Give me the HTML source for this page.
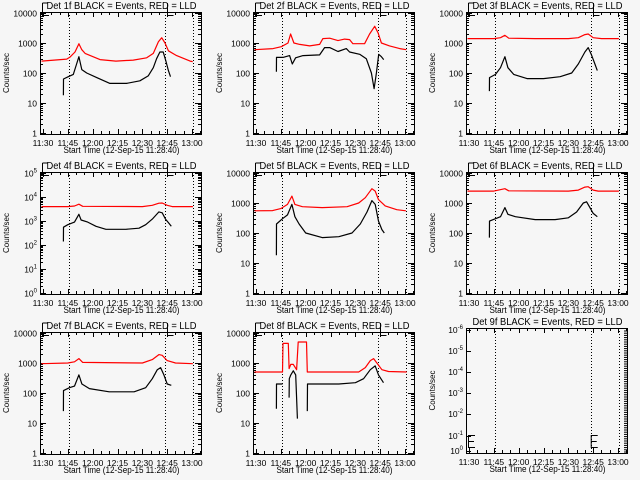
<!DOCTYPE html>
<html><head><meta charset="utf-8"><style>
html,body{margin:0;padding:0;background:#f6f6f6}
svg{display:block}
text{font-family:"Liberation Sans",sans-serif;fill:#000}
</style></head><body>
<svg id="chart" width="640" height="480" xmlns="http://www.w3.org/2000/svg">
<rect width="640" height="480" fill="#f6f6f6"/>
</svg>
<script>
// Data: minutes since 11:30 and count rates (counts/sec)
const xTickLabels = ["11:30","11:45","12:00","12:15","12:30","12:45","13:00"];
const markerTimes = [15.9, 73.5, 90.4];
const detNames = ["1f","2f","3f","4f","5f","6f","7f","8f","9f"];

const p1RedT = [-0.9,14.3,16.3,19.3,21.7,23.4,25.4,34.4,44,54.5,62.6,66.6,69.7,71.7,73.7,75.7,80.7,88.8,90.4];
const p1RedV = [250,290,340,500,950,600,450,280,250,270,320,450,1100,1500,1000,550,380,250,240];
const p1BlkT = [12.3,12.4,15.3,18.3,20.3,21.7,23.4,26.4,32.4,40.4,50.4,58.5,63.5,66.6,68.6,70.6,72.6,74.2,75.7,77];
const p1BlkV = [18,63,75,90,200,350,130,100,70,45,45,55,80,150,300,500,500,250,120,75];

const p2RedT = [-0.9,10.3,15.3,19.3,20.9,22.9,26.4,32.4,38.4,40.4,44.5,49.5,53.5,56.5,58.5,65.6,68.6,71.7,73.7,75.7,80.7,86.8,90.8];
const p2RedV = [600,650,750,1000,2000,1000,900,800,900,1400,1450,1200,1350,1300,950,950,2000,3600,2200,1000,800,650,600];
const p2BlkT = [12.3,12.4,16.3,20.3,21.9,23.9,28.4,38.4,41.4,44.5,49.5,54.5,56.5,62.6,66.6,69.7,71.3,72.7,74.1,75.7,77.1];
const p2BlkV = [110,330,330,380,200,320,380,400,700,700,520,650,500,420,300,100,30,100,420,350,280];

const p3RedT = [-0.9,15,19,21.7,24,40,60,66,70,72,75,80,90.5];
const p3RedV = [1400,1400,1500,1800,1450,1400,1400,1500,1900,2000,1500,1400,1400];
const p3BlkT = [12.3,12.4,16,19,21.7,23.5,27,35,45,55,62,66,70,72,74,76,77.5];
const p3BlkV = [25,70,90,150,350,150,90,65,65,75,100,200,500,700,400,200,120];

const p4RedT = [-0.9,15,19,21.7,24,60,66,70,72,75,78,90.5];
const p4RedV = [4000,4000,4200,5000,4100,4000,4500,5500,5600,4500,4000,4000];
const p4BlkT = [12.3,12.4,15,19,21.7,23,27,32,38,50,58,62,66,70,72,74,76,77.5];
const p4BlkV = [140,550,700,900,1900,1100,900,600,450,450,500,700,1200,2400,2200,1200,800,600];

const p5RedT = [-0.9,10,15,19,21.7,23.5,28,40,55,62,66,70,72,74,78,85,90.5];
const p5RedV = [550,560,650,900,1700,900,750,700,750,1000,1500,3000,2500,1300,800,600,550];
const p5BlkT = [12.3,12.4,16,19,21.7,23.5,26,30,40,50,58,63,67,70,72,74,76,77.5];
const p5BlkV = [18,200,300,400,900,350,200,100,70,75,100,200,500,1200,900,250,130,100];

const p6RedT = [-0.9,15,21.7,24,60,66,70,72,75,78,90.5];
const p6RedV = [2500,2500,3000,2550,2500,2700,3400,3500,2700,2500,2500];
const p6BlkT = [12.3,12.4,16,19,21.7,23.5,28,40,52,60,65,69,71,73,75,77.5];
const p6BlkV = [70,250,300,350,700,420,350,280,280,320,500,1000,1100,700,450,350];

const p7RedT = [-0.9,15,19,21.7,24,60,66,70,72,75,80,90.5];
const p7RedV = [950,1000,1100,1400,1050,1000,1300,1900,1800,1200,1000,950];
const p7BlkT = [12.3,12.4,16,19,21.7,23.5,28,40,55,62,66,69,71,73,75,77.5];
const p7BlkV = [25,120,150,170,400,200,140,110,110,150,300,600,700,400,200,180];

const p8RedT = [-0.9,16,16.3,19.5,20,21,22.5,24.5,25.5,30.5,31,62,66,69,71,73,76,80,91];
const p8RedV = [500,500,4500,4500,650,900,900,600,5000,5000,500,500,700,1200,1400,1000,600,520,500];
const p8BlkT = [12.3,12.4,16,16.1,20,20.1,21,22.5,24,25,25.1,31,31.1,50,60,65,69,72,74,77];
const p8BlkV = [30,200,200,null,70,300,400,550,400,14,null,25,200,200,220,300,600,800,400,220];

const panelRed = [p1RedT,p1RedV,p2RedT,p2RedV,p3RedT,p3RedV,p4RedT,p4RedV,p5RedT,p5RedV,p6RedT,p6RedV,p7RedT,p7RedV,p8RedT,p8RedV];
const panelBlk = [p1BlkT,p1BlkV,p2BlkT,p2BlkV,p3BlkT,p3BlkV,p4BlkT,p4BlkV,p5BlkT,p5BlkV,p6BlkT,p6BlkV,p7BlkT,p7BlkV,p8BlkT,p8BlkV];

const NS = "http://www.w3.org/2000/svg";
const svg = document.getElementById("chart");
function mk(tag, attrs, parent){
  const e = document.createElementNS(NS, tag);
  for (const k in attrs) e.setAttribute(k, attrs[k]);
  (parent||svg).appendChild(e);
  return e;
}

for (let i = 0; i < 9; i++) {
  const col = i % 3, row = Math.floor(i / 3);
  const L = 40 + 213 * col, R = L + 161;
  const T = (i === 8) ? 328 : 12 + 160 * row;
  const B = (i === 8) ? 453 : T + 122;
  const g = mk("g", {});
  
  
  const lo = 0, hi = (i === 3) ? 5 : 4;
  const xs = m => L + 3 + m * 1.656;
  const ys = v => B - 1 - (Math.log10(v) - lo) / (hi - lo) * (B - T - 2);

  // frame
  const frame = mk("rect", {x:L+0.5, y:T+0.5, width:R-L, height:B-T, fill:"none", stroke:"#000", "stroke-width":1}, g);
  
  

  // title
  const title = mk("text", {x:(L+R)/2+1, y:T-3, "font-size":10, "text-anchor":"middle", textLength:150, lengthAdjust:"spacingAndGlyphs"}, g);
  title.textContent = "Det " + detNames[i] + " BLACK = Events, RED = LLD";
  
  

  // x ticks and labels
  for (let m = 0; m <= 95; m += 5) {
    const x = Math.round(xs(m)) + 0.5;
    const len = (m % 15 === 0) ? 5 : 3;
    mk("line", {x1:x, y1:B, x2:x, y2:B-len, stroke:"#000"}, g);
    mk("line", {x1:x, y1:T, x2:x, y2:T+len, stroke:"#000"}, g);
  }
  xTickLabels.forEach((lab, k) => {
    const t = mk("text", {x:xs(k*15), y:B+12, "font-size":8.5, "text-anchor":"middle"}, g);
    t.textContent = lab;
    
    
  });
  const xt = mk("text", {x:(L+R)/2+1, y:B+19, "font-size":9, "text-anchor":"middle", textLength:116, lengthAdjust:"spacingAndGlyphs"}, g);
  xt.textContent = "Start Time (12-Sep-15 11:28:40)";
  
  

  const yt = mk("text", {x:0, y:0, "font-size":8, "text-anchor":"middle", transform:"translate(" + (L-31) + "," + ((T+B)/2) + ") rotate(-90)"}, g);
  yt.textContent = "Counts/sec";
  
  

  if (i < 8) {
    for (let d = lo; d <= hi; d++) {
      const y = Math.round(ys(Math.pow(10, d))) + 0.5;
      mk("line", {x1:L, y1:y, x2:L+6, y2:y, stroke:"#000"}, g);
      mk("line", {x1:R, y1:y, x2:R-6, y2:y, stroke:"#000"}, g);
      const lab = mk("text", {x:L-3, y:y+3, "font-size":8.5, "text-anchor":"end"}, g);
      if (i === 3) {
        lab.textContent = "10";
        const s = mk("tspan", {dy:-4, "font-size":6}, lab);
        s.textContent = String(d);
      } else {
        lab.textContent = String(Math.pow(10, d));
      }
      
      
      if (d < hi) for (let k = 2; k <= 9; k++) {
        const yy = Math.round(ys(k * Math.pow(10, d))) + 0.5;
        mk("line", {x1:L, y1:yy, x2:L+3, y2:yy, stroke:"#000"}, g);
        mk("line", {x1:R, y1:yy, x2:R-3, y2:yy, stroke:"#000"}, g);
      }
    }
  } else {
    const yPos = [330,351,372,393,414,436,451];
    const exps = ["-6","-5","-4","-3","-2","-1","0"];
    yPos.forEach((y, k) => {
      mk("line", {x1:L, y1:y+0.5, x2:L+5, y2:y+0.5, stroke:"#000"}, g);
      const lab = mk("text", {x:L-3, y:y+3, "font-size":8.5, "text-anchor":"end"}, g);
      lab.textContent = "10";
      const s = mk("tspan", {dy:-4, "font-size":6}, lab);
      s.textContent = exps[k];
      
      
    });
    for (let y = T + 3; y < B; y += 2.2) mk("line", {x1:R, y1:y, x2:R-3, y2:y, stroke:"#000"}, g);
    [L+2, xs(73.5)].forEach(x0 => {
      const e = mk("path", {d:"M"+(x0+7)+" 435.5 H"+(x0+0.5)+" V447.5 H"+(x0+7)+" M"+(x0+0.5)+" 441.5 H"+(x0+6), fill:"none", stroke:"#000"}, g);
      
      
    });
  }

  // dotted markers
  markerTimes.forEach(m => {
    const x = Math.round(xs(m)) + 0.5;
    const l = mk("line", {x1:x, y1:T, x2:x, y2:B, stroke:"#000", "stroke-dasharray":"1 2"}, g);
    
    
  });

  if (i < 8) {
    // bracket marks at top
    const b1 = mk("path", {d:"M"+(L+2.5)+" "+(T-9)+" V"+(T+3.5)+" H"+(L+9)+" M"+(L+2.5)+" "+(T-9)+" H"+(L+8), fill:"none", stroke:"#000"}, g);
    
    
    const bx = Math.round(xs(73.5)) + 2.5;
    const b2 = mk("path", {d:"M"+bx+" "+(T-9)+" V"+(T+3.5)+" H"+(bx+6), fill:"none", stroke:"#000"}, g);
    
    

    const series = [[panelRed[2*i], panelRed[2*i+1], "#ff0000", "lld-rate-line"], [panelBlk[2*i], panelBlk[2*i+1], "#000000", "event-rate-line"]];
    series.forEach(([ts, vs, color, name]) => {
      let d = "", pen = false;
      for (let k = 0; k < ts.length; k++) {
        if (vs[k] == null) { pen = false; continue; }
        d += (pen ? "L" : "M") + xs(ts[k]).toFixed(1) + " " + ys(vs[k]).toFixed(1) + " ";
        pen = true;
      }
      const p = mk("path", {d:d, fill:"none", stroke:color, "stroke-width":1.2, "stroke-linejoin":"round"}, g);
      
      
    });
  }
}
</script>
</body></html>
